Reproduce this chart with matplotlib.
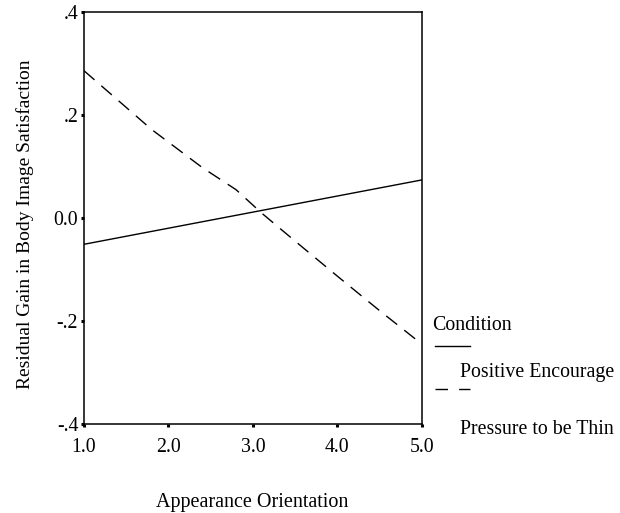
import matplotlib
matplotlib.use("Agg")
import matplotlib.pyplot as plt
from matplotlib.lines import Line2D

plt.rcParams['font.family'] = ['Liberation Serif', 'DejaVu Serif']

# fitted lines per condition
x_pos = [1.0, 5.0]
y_pos = [-0.051, 0.074]
x_thin = [1.0, 1.8, 2.4, 2.8, 3.1, 3.5, 4.0, 4.5, 5.0]
y_thin = [0.286, 0.172, 0.098, 0.055, 0.010, -0.045, -0.113, -0.180, -0.245]

xticks = [1.0, 2.0, 3.0, 4.0, 5.0]
xticklabels = ["1.0", "2.0", "3.0", "4.0", "5.0"]
yticks = [-0.4, -0.2, 0.0, 0.2, 0.4]
yticklabels = ["-.4", "-.2", "0.0", ".2", ".4"]

dash = (0, (10, 6.5))

fig = plt.figure(figsize=(6.2, 5.13), dpi=100)
ax = fig.add_axes([0.1355, 0.1735, 0.545, 0.803])

ax.plot(x_pos, y_pos, color="black", lw=1.0)
ax.plot(x_thin, y_thin, color="black", lw=1.0, linestyle=dash)

ax.set_xlim(1.0, 5.0)
ax.set_ylim(-0.4, 0.4)
ax.set_xticks(xticks)
ax.set_xticklabels(xticklabels)
ax.set_yticks(yticks)
ax.set_yticklabels(yticklabels)
ax.tick_params(direction="out", length=2.2, width=2.2, labelsize=14.3, colors="black")
ax.tick_params(axis="x", pad=8)
ax.tick_params(axis="y", pad=2)
for s in ax.spines.values():
    s.set_linewidth(1.1)

fig.text(252 / 620, 1 - 502 / 513, "Appearance Orientation", ha="center", va="center", fontsize=14.5)
fig.text(25 / 620, 1 - 224 / 513, "Residual Gain in Body Image Satisfaction",
         ha="center", va="center", rotation=90, fontsize=14)

# legend block on the right
fig.text(432 / 620, 1 - 326 / 513, "Condition", ha="left", va="center", fontsize=14.3)
fig.add_artist(Line2D([435 / 620, 470 / 620], [1 - 346 / 513, 1 - 346 / 513], color="black", lw=1.0))
fig.text(460 / 620, 1 - 372 / 513, "Positive Encourage", ha="left", va="center", fontsize=14.3)
fig.add_artist(Line2D([435 / 620, 470 / 620], [1 - 389 / 513, 1 - 389 / 513], color="black", lw=1.0,
                      linestyle=(0, (9, 8))))
fig.text(460 / 620, 1 - 429 / 513, "Pressure to be Thin", ha="left", va="center", fontsize=14.3)

fig.savefig("out.png", dpi=100)
